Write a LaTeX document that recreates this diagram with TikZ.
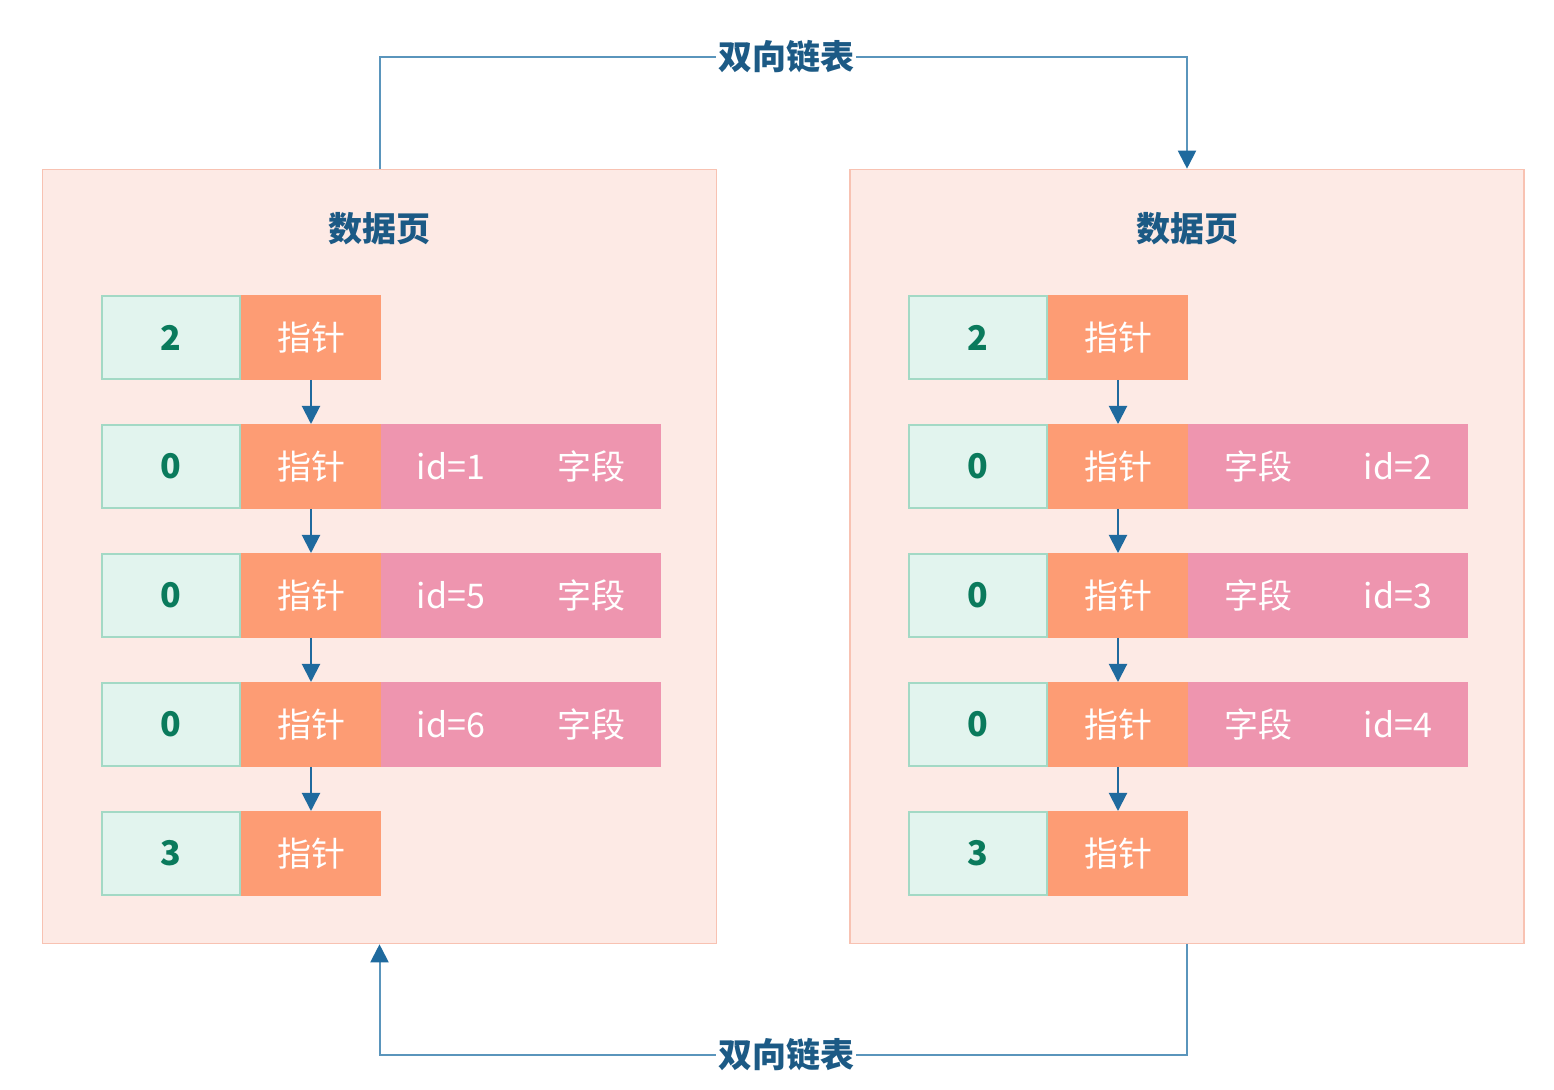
\documentclass[tikz,border=0pt]{standalone}
\usepackage{fontspec}
\setmainfont{Noto Sans CJK SC}
\usetikzlibrary{arrows.meta, positioning}
\definecolor{pagefill}{HTML}{FDEAE5}
\definecolor{pageline}{HTML}{F8C2B2}
\definecolor{numfill}{HTML}{E2F4EE}
\definecolor{numline}{HTML}{A3D9C5}
\definecolor{numtext}{HTML}{0A7A5C}
\definecolor{ptrfill}{HTML}{FD9C74}
\definecolor{fieldfill}{HTML}{EE95AF}
\definecolor{titleblue}{HTML}{1C5A85}
\definecolor{linkblue}{HTML}{5A95BC}
\definecolor{arrowblue}{HTML}{1F6A9E}
\tikzset{
  page/.style={rectangle,draw=pageline,fill=pagefill,line width=0.8pt,minimum width=337pt,minimum height=387pt,inner sep=0pt},
  title/.style={text=titleblue,font=\bfseries\fontsize{17}{20}\selectfont},
  cell/.style={rectangle,minimum width=69.2pt,minimum height=41.7pt,inner sep=0pt,line width=0.8pt,font=\fontsize{17}{20}\selectfont},
  numcell/.style={cell,draw=numline,fill=numfill,text=numtext,font=\bfseries\fontsize{17}{20}\selectfont},
  ptrcell/.style={cell,draw=ptrfill,fill=ptrfill,text=white},
  fieldcell/.style={cell,draw=fieldfill,fill=fieldfill,text=white},
  tip/.style={-{Triangle[width=9pt,length=9pt,color=arrowblue]}},
  line/.style={draw=arrowblue,line width=1pt,tip},
  link/.style={draw=linkblue,line width=1pt},
  linklabel/.style={title,inner sep=1pt}
}
\begin{document}
\begin{tikzpicture}[x=0.5pt,y=-0.5pt]
\useasboundingbox (0,0) rectangle (1554,1090);
% two data pages
\node[page] (lpage) at (379.5,556.5) {};
\node[page] (rpage) at (1187,556.5) {};
\node[title, below=18.5pt of lpage.north] (ltitle) {数据页};
\node[title, below=18.5pt of rpage.north] (rtitle) {数据页};
% left page rows
\node[numcell, anchor=north west] (l1n) at (101,295) {2};
\node[ptrcell, right=0pt of l1n] (l1p) {指针};
\node[numcell, below=22pt of l1n] (l2n) {0};
\node[ptrcell, right=0pt of l2n] (l2p) {指针};
\node[fieldcell, right=0pt of l2p] (l2a) {id=1};
\node[fieldcell, right=0pt of l2a] (l2b) {字段};
\node[numcell, below=22pt of l2n] (l3n) {0};
\node[ptrcell, right=0pt of l3n] (l3p) {指针};
\node[fieldcell, right=0pt of l3p] (l3a) {id=5};
\node[fieldcell, right=0pt of l3a] (l3b) {字段};
\node[numcell, below=22pt of l3n] (l4n) {0};
\node[ptrcell, right=0pt of l4n] (l4p) {指针};
\node[fieldcell, right=0pt of l4p] (l4a) {id=6};
\node[fieldcell, right=0pt of l4a] (l4b) {字段};
\node[numcell, below=22pt of l4n] (l5n) {3};
\node[ptrcell, right=0pt of l5n] (l5p) {指针};
% right page rows
\node[numcell, anchor=north west] (r1n) at (908,295) {2};
\node[ptrcell, right=0pt of r1n] (r1p) {指针};
\node[numcell, below=22pt of r1n] (r2n) {0};
\node[ptrcell, right=0pt of r2n] (r2p) {指针};
\node[fieldcell, right=0pt of r2p] (r2a) {字段};
\node[fieldcell, right=0pt of r2a] (r2b) {id=2};
\node[numcell, below=22pt of r2n] (r3n) {0};
\node[ptrcell, right=0pt of r3n] (r3p) {指针};
\node[fieldcell, right=0pt of r3p] (r3a) {字段};
\node[fieldcell, right=0pt of r3a] (r3b) {id=3};
\node[numcell, below=22pt of r3n] (r4n) {0};
\node[ptrcell, right=0pt of r4n] (r4p) {指针};
\node[fieldcell, right=0pt of r4p] (r4a) {字段};
\node[fieldcell, right=0pt of r4a] (r4b) {id=4};
\node[numcell, below=22pt of r4n] (r5n) {3};
\node[ptrcell, right=0pt of r5n] (r5p) {指针};
% pointer chains
\draw[line] (l1p) -- (l2p);
\draw[line] (l2p) -- (l3p);
\draw[line] (l3p) -- (l4p);
\draw[line] (l4p) -- (l5p);
\draw[line] (r1p) -- (r2p);
\draw[line] (r2p) -- (r3p);
\draw[line] (r3p) -- (r4p);
\draw[line] (r4p) -- (r5p);
% doubly linked list between pages
\node[linklabel] (toplink) at (786,57) {双向链表};
\node[linklabel] (botlink) at (786,1055) {双向链表};
\draw[link] (lpage.north) |- (toplink.west);
\draw[link, tip] (toplink.east) -| (rpage.north);
\draw[link] (rpage.south) |- (botlink.east);
\draw[link, tip] (botlink.west) -| (lpage.south);
\end{tikzpicture}
\end{document}
